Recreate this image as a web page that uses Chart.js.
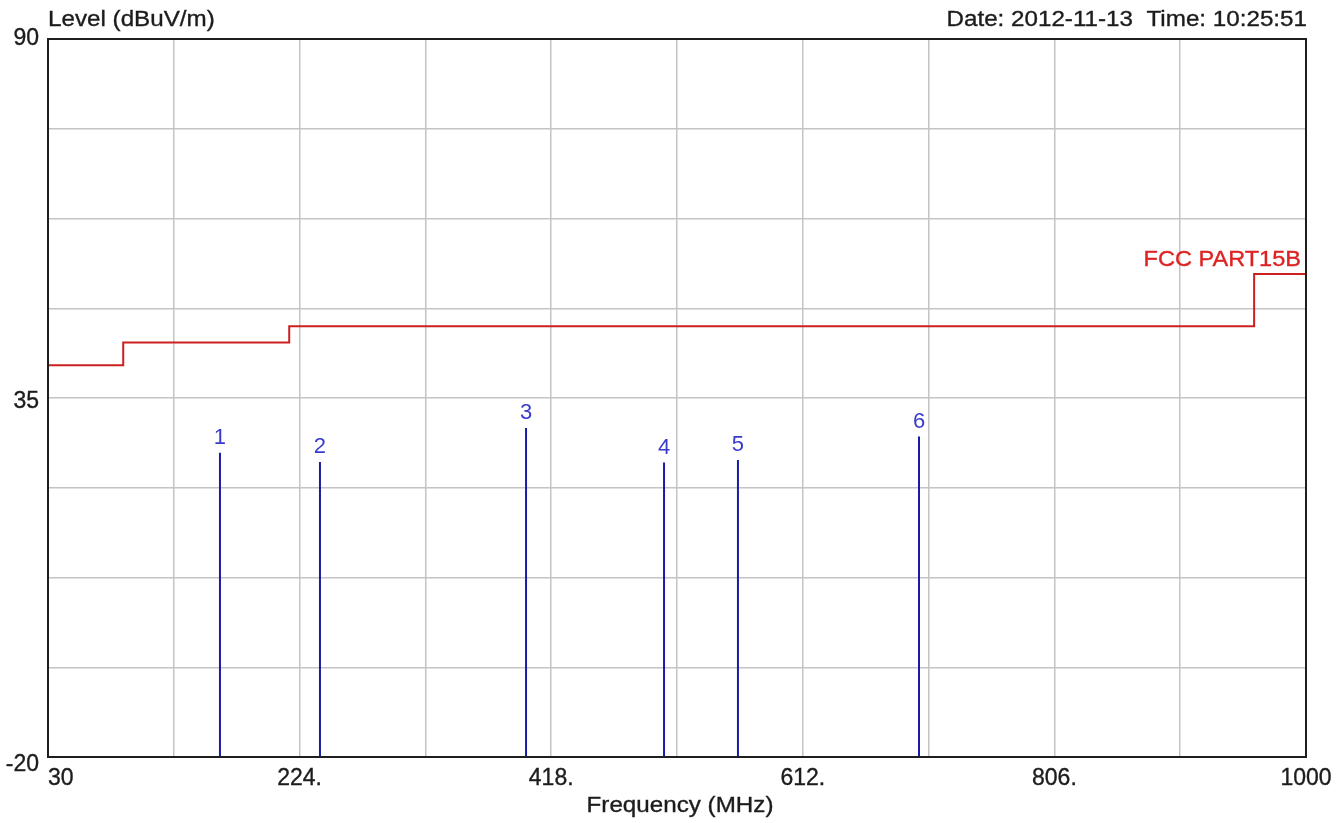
<!DOCTYPE html>
<html><head><meta charset="utf-8">
<script src="https://cdn.jsdelivr.net/npm/chart.js@4.4.1/dist/chart.umd.min.js"></script>
<style>html,body{margin:0;padding:0;background:#fff;overflow:hidden}#wrap{width:1342px;height:823px}</style>
</head><body><div id="wrap"><canvas id="c" width="1342" height="823"></canvas></div>
<script>
// ---- data ----
const limitFreq  = [30, 88, 88, 216, 216, 960, 960, 1000];
const limitLevel = [40, 40, 43.5, 43.5, 46, 46, 54, 54];
const limitName  = 'FCC PART15B';
const peakFreq   = [162.6, 239.7, 398.6, 505.0, 562.0, 701.6];
const peakLevel  = [26.6, 25.2, 30.4, 25.1, 25.5, 29.1];
const peakLabels = ['1', '2', '3', '4', '5', '6'];
const xTickValues = [30, 224, 418, 612, 806, 1000];
const xTickLabels = ['30', '224.', '418.', '612.', '806.', '1000'];
const yTickValues = [90, 35, -20];
const yTickLabels = ['90', '35', '-20'];
const yTitle = 'Level (dBuV/m)';
const xTitle = 'Frequency (MHz)';
const stamp  = 'Date: 2012-11-13  Time: 10:25:51';

const FONT = '"Liberation Sans", Arial, sans-serif';
const TXT = '#1c1c1c';

const datasets = [];
datasets.push({
  label: limitName,
  data: limitFreq.map((f, i) => ({x: f, y: limitLevel[i]})),
  showLine: true, borderColor: '#cc2020', borderWidth: 2, pointRadius: 0, fill: false
});
peakFreq.forEach((f, i) => {
  datasets.push({
    label: 'peak' + peakLabels[i],
    data: [{x: f, y: -20}, {x: f, y: peakLevel[i]}],
    showLine: true, borderColor: '#1a1aa8', borderWidth: 2, pointRadius: 0, fill: false
  });
});

function drawText(c, s, x, y, align, sx, stroke) {
  const w = c.measureText(s).width * sx;
  let left = x;
  if (align === 'center') left = x - w / 2;
  else if (align === 'right') left = x - w;
  c.save();
  c.translate(left, y);
  c.scale(sx, 1);
  c.textAlign = 'left';
  c.fillText(s, 0, 0);
  if (stroke) {
    c.lineWidth = stroke;
    c.strokeStyle = c.fillStyle;
    c.strokeText(s, 0, 0);
  }
  c.restore();
}

const textPlugin = {
  id: 'texts',
  afterDraw(chart) {
    const c = chart.ctx, a = chart.chartArea;
    const xs = chart.scales.x, ys = chart.scales.y;
    c.save();
    // frame
    c.strokeStyle = '#1e1e1e'; c.lineWidth = 2;
    c.strokeRect(a.left, a.top, a.right - a.left, a.bottom - a.top);
    c.textBaseline = 'alphabetic';
    c.fillStyle = TXT;
    c.font = '23px ' + FONT;
    // y tick labels
    yTickValues.forEach((v, i) => {
      const p = ys.getPixelForValue(v);
      const off = 6 + (p - a.top) / (a.bottom - a.top) * 8;
      drawText(c, yTickLabels[i], a.left - 9, p + off, 'right', 1, 0.35);
    });
    // x tick labels
    xTickValues.forEach((v, i) => {
      drawText(c, xTickLabels[i], xs.getPixelForValue(v), a.bottom + 28, i === 0 ? 'left' : 'center', 1, 0.35);
    });
    // titles
    c.font = '22px ' + FONT;
    drawText(c, xTitle, (a.left + a.right) / 2 + 3, a.bottom + 55, 'center', 1.1, 0.35);
    drawText(c, yTitle, a.left, a.top - 13, 'left', 1.1, 0.35);
    drawText(c, stamp, a.right + 1, a.top - 13, 'right', 1.1, 0.35);
    // limit name
    c.fillStyle = '#dd2222';
    drawText(c, limitName, a.right - 5, ys.getPixelForValue(limitLevel[limitLevel.length - 1]) - 8, 'right', 1.07, 0.35);
    // peak labels
    c.fillStyle = '#3a3acc';
    c.font = '22px ' + FONT;
    peakFreq.forEach((f, i) => {
      drawText(c, peakLabels[i], xs.getPixelForValue(f), ys.getPixelForValue(peakLevel[i]) - 9, 'center', 1, 0);
    });
    c.restore();
  }
};

new Chart(document.getElementById('c'), {
  type: 'scatter',
  data: {datasets},
  options: {
    responsive: false, animation: false,
    layout: {padding: {left: 48, right: 36, top: 39, bottom: 66}},
    plugins: {legend: {display: false}, tooltip: {enabled: false}},
    scales: {
      x: {type: 'linear', min: 30, max: 1000,
          ticks: {display: false, stepSize: 97, autoSkip: false, maxTicksLimit: 30},
          grid: {color: '#c4c4c4', lineWidth: 1.5, drawTicks: false},
          border: {display: false}},
      y: {type: 'linear', min: -20, max: 90,
          ticks: {display: false, stepSize: 13.75, autoSkip: false, maxTicksLimit: 30},
          grid: {color: '#c4c4c4', lineWidth: 1.5, drawTicks: false},
          border: {display: false}}
    }
  },
  plugins: [textPlugin]
});
</script></body></html>
